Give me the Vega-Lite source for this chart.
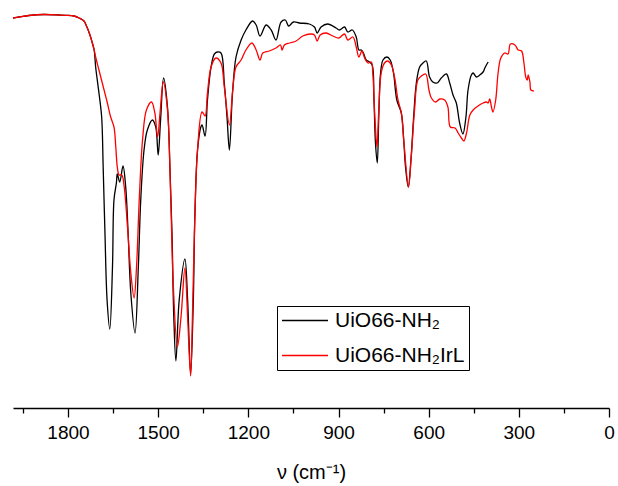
{
  "$schema": "https://vega.github.io/schema/vega-lite/v6.json",
  "width": 596,
  "height": 408,
  "autosize": {"type": "none"},
  "padding": {"left": 13, "top": 0, "right": 9, "bottom": 78},
  "background": "white",
  "config": {"view": {"stroke": null}},
  "data": {"values": [
    {"s":"UiO66-NH₂","nu":1983,"T":390},{"s":"UiO66-NH₂","nu":1963,"T":391},{"s":"UiO66-NH₂","nu":1930,"T":392.5},{"s":"UiO66-NH₂","nu":1880,"T":393.5},{"s":"UiO66-NH₂","nu":1830,"T":393},{"s":"UiO66-NH₂","nu":1807,"T":392.7},{"s":"UiO66-NH₂","nu":1780,"T":392},{"s":"UiO66-NH₂","nu":1763,"T":390},{"s":"UiO66-NH₂","nu":1747,"T":387},{"s":"UiO66-NH₂","nu":1737,"T":381},{"s":"UiO66-NH₂","nu":1727,"T":373},{"s":"UiO66-NH₂","nu":1720,"T":366},{"s":"UiO66-NH₂","nu":1713,"T":358},
    {"s":"UiO66-NH₂","nu":1708,"T":341},{"s":"UiO66-NH₂","nu":1697,"T":315},{"s":"UiO66-NH₂","nu":1688,"T":291},{"s":"UiO66-NH₂","nu":1683,"T":241},{"s":"UiO66-NH₂","nu":1677,"T":175},{"s":"UiO66-NH₂","nu":1670,"T":108},{"s":"UiO66-NH₂","nu":1661,"T":79},{"s":"UiO66-NH₂","nu":1652,"T":141},{"s":"UiO66-NH₂","nu":1647,"T":208},{"s":"UiO66-NH₂","nu":1639,"T":225},{"s":"UiO66-NH₂","nu":1636,"T":234},{"s":"UiO66-NH₂","nu":1628,"T":226},{"s":"UiO66-NH₂","nu":1617,"T":242},{"s":"UiO66-NH₂","nu":1608,"T":221},{"s":"UiO66-NH₂","nu":1600,"T":175},{"s":"UiO66-NH₂","nu":1591,"T":115},{"s":"UiO66-NH₂","nu":1577,"T":75},{"s":"UiO66-NH₂","nu":1566,"T":141},{"s":"UiO66-NH₂","nu":1558,"T":208},{"s":"UiO66-NH₂","nu":1547,"T":258},{"s":"UiO66-NH₂","nu":1536,"T":278},{"s":"UiO66-NH₂","nu":1519,"T":288},{"s":"UiO66-NH₂","nu":1508,"T":281},{"s":"UiO66-NH₂","nu":1500,"T":253},{"s":"UiO66-NH₂","nu":1492,"T":288},{"s":"UiO66-NH₂","nu":1482,"T":330},{"s":"UiO66-NH₂","nu":1469,"T":301},{"s":"UiO66-NH₂","nu":1461,"T":241},{"s":"UiO66-NH₂","nu":1454,"T":175},{"s":"UiO66-NH₂","nu":1448,"T":91},{"s":"UiO66-NH₂","nu":1441,"T":47},{"s":"UiO66-NH₂","nu":1430,"T":108},{"s":"UiO66-NH₂","nu":1411,"T":149},{"s":"UiO66-NH₂","nu":1402,"T":108},{"s":"UiO66-NH₂","nu":1392,"T":34},{"s":"UiO66-NH₂","nu":1383,"T":108},{"s":"UiO66-NH₂","nu":1378,"T":191},{"s":"UiO66-NH₂","nu":1369,"T":258},{"s":"UiO66-NH₂","nu":1358,"T":281},{"s":"UiO66-NH₂","nu":1354,"T":283},{"s":"UiO66-NH₂","nu":1344,"T":272},{"s":"UiO66-NH₂","nu":1336,"T":308},{"s":"UiO66-NH₂","nu":1324,"T":341},{"s":"UiO66-NH₂","nu":1313,"T":354},{"s":"UiO66-NH₂","nu":1303,"T":356},{"s":"UiO66-NH₂","nu":1291,"T":355},{"s":"UiO66-NH₂","nu":1280,"T":325},{"s":"UiO66-NH₂","nu":1271,"T":291},{"s":"UiO66-NH₂","nu":1263,"T":258},{"s":"UiO66-NH₂","nu":1253,"T":313},{"s":"UiO66-NH₂","nu":1241,"T":351},{"s":"UiO66-NH₂","nu":1224,"T":368},{"s":"UiO66-NH₂","nu":1208,"T":378},{"s":"UiO66-NH₂","nu":1186,"T":387},{"s":"UiO66-NH₂","nu":1174,"T":383},{"s":"UiO66-NH₂","nu":1161,"T":372},{"s":"UiO66-NH₂","nu":1141,"T":383},{"s":"UiO66-NH₂","nu":1124,"T":378},{"s":"UiO66-NH₂","nu":1108,"T":368},{"s":"UiO66-NH₂","nu":1091,"T":386},{"s":"UiO66-NH₂","nu":1077,"T":388},{"s":"UiO66-NH₂","nu":1066,"T":382},{"s":"UiO66-NH₂","nu":1050,"T":386},{"s":"UiO66-NH₂","nu":1030,"T":385},{"s":"UiO66-NH₂","nu":997,"T":384},{"s":"UiO66-NH₂","nu":980,"T":381},{"s":"UiO66-NH₂","nu":971,"T":375},{"s":"UiO66-NH₂","nu":958,"T":381},{"s":"UiO66-NH₂","nu":936,"T":384},{"s":"UiO66-NH₂","nu":908,"T":380},{"s":"UiO66-NH₂","nu":897,"T":378},{"s":"UiO66-NH₂","nu":880,"T":381},{"s":"UiO66-NH₂","nu":869,"T":376},{"s":"UiO66-NH₂","nu":854,"T":378},{"s":"UiO66-NH₂","nu":841,"T":371},{"s":"UiO66-NH₂","nu":832,"T":358},{"s":"UiO66-NH₂","nu":824,"T":358},{"s":"UiO66-NH₂","nu":817,"T":355},{"s":"UiO66-NH₂","nu":808,"T":348},{"s":"UiO66-NH₂","nu":797,"T":346},{"s":"UiO66-NH₂","nu":788,"T":343},{"s":"UiO66-NH₂","nu":782,"T":308},{"s":"UiO66-NH₂","nu":777,"T":265},{"s":"UiO66-NH₂","nu":771,"T":245},{"s":"UiO66-NH₂","nu":766,"T":291},{"s":"UiO66-NH₂","nu":760,"T":335},{"s":"UiO66-NH₂","nu":752,"T":348},{"s":"UiO66-NH₂","nu":739,"T":351},{"s":"UiO66-NH₂","nu":728,"T":348},{"s":"UiO66-NH₂","nu":717,"T":335},{"s":"UiO66-NH₂","nu":706,"T":308},{"s":"UiO66-NH₂","nu":691,"T":295},{"s":"UiO66-NH₂","nu":683,"T":268},{"s":"UiO66-NH₂","nu":677,"T":241},{"s":"UiO66-NH₂","nu":668,"T":221},{"s":"UiO66-NH₂","nu":659,"T":248},{"s":"UiO66-NH₂","nu":650,"T":291},{"s":"UiO66-NH₂","nu":641,"T":325},{"s":"UiO66-NH₂","nu":630,"T":341},{"s":"UiO66-NH₂","nu":619,"T":345},{"s":"UiO66-NH₂","nu":608,"T":347},{"s":"UiO66-NH₂","nu":597,"T":331},{"s":"UiO66-NH₂","nu":586,"T":326},{"s":"UiO66-NH₂","nu":572,"T":325},{"s":"UiO66-NH₂","nu":558,"T":330},{"s":"UiO66-NH₂","nu":541,"T":334},{"s":"UiO66-NH₂","nu":530,"T":325},{"s":"UiO66-NH₂","nu":519,"T":313},{"s":"UiO66-NH₂","nu":508,"T":305},{"s":"UiO66-NH₂","nu":497,"T":285},{"s":"UiO66-NH₂","nu":486,"T":274},{"s":"UiO66-NH₂","nu":476,"T":291},{"s":"UiO66-NH₂","nu":469,"T":318},{"s":"UiO66-NH₂","nu":458,"T":333},{"s":"UiO66-NH₂","nu":452,"T":335},{"s":"UiO66-NH₂","nu":441,"T":331},{"s":"UiO66-NH₂","nu":430,"T":333},{"s":"UiO66-NH₂","nu":419,"T":336},{"s":"UiO66-NH₂","nu":413,"T":340},{"s":"UiO66-NH₂","nu":408,"T":343},{"s":"UiO66-NH₂","nu":402,"T":346},
    {"s":"UiO66-NH₂IrL","nu":1983,"T":390},{"s":"UiO66-NH₂IrL","nu":1963,"T":391},{"s":"UiO66-NH₂IrL","nu":1930,"T":392.5},{"s":"UiO66-NH₂IrL","nu":1880,"T":393.5},{"s":"UiO66-NH₂IrL","nu":1830,"T":393},{"s":"UiO66-NH₂IrL","nu":1807,"T":392.7},{"s":"UiO66-NH₂IrL","nu":1780,"T":392},{"s":"UiO66-NH₂IrL","nu":1763,"T":390},{"s":"UiO66-NH₂IrL","nu":1747,"T":387},{"s":"UiO66-NH₂IrL","nu":1737,"T":381},{"s":"UiO66-NH₂IrL","nu":1727,"T":373},{"s":"UiO66-NH₂IrL","nu":1720,"T":366},{"s":"UiO66-NH₂IrL","nu":1713,"T":358},
    {"s":"UiO66-NH₂IrL","nu":1708,"T":351},{"s":"UiO66-NH₂IrL","nu":1697,"T":338},{"s":"UiO66-NH₂IrL","nu":1680,"T":318},{"s":"UiO66-NH₂IrL","nu":1669,"T":305},{"s":"UiO66-NH₂IrL","nu":1658,"T":291},{"s":"UiO66-NH₂IrL","nu":1647,"T":281},{"s":"UiO66-NH₂IrL","nu":1641,"T":261},{"s":"UiO66-NH₂IrL","nu":1636,"T":241},{"s":"UiO66-NH₂IrL","nu":1630,"T":233},{"s":"UiO66-NH₂IrL","nu":1621,"T":233},{"s":"UiO66-NH₂IrL","nu":1613,"T":221},{"s":"UiO66-NH₂IrL","nu":1602,"T":181},{"s":"UiO66-NH₂IrL","nu":1591,"T":135},{"s":"UiO66-NH₂IrL","nu":1580,"T":110},{"s":"UiO66-NH₂IrL","nu":1572,"T":141},{"s":"UiO66-NH₂IrL","nu":1563,"T":208},{"s":"UiO66-NH₂IrL","nu":1552,"T":268},{"s":"UiO66-NH₂IrL","nu":1539,"T":298},{"s":"UiO66-NH₂IrL","nu":1522,"T":306},{"s":"UiO66-NH₂IrL","nu":1511,"T":295},{"s":"UiO66-NH₂IrL","nu":1502,"T":271},{"s":"UiO66-NH₂IrL","nu":1493,"T":298},{"s":"UiO66-NH₂IrL","nu":1483,"T":326},{"s":"UiO66-NH₂IrL","nu":1469,"T":298},{"s":"UiO66-NH₂IrL","nu":1458,"T":208},{"s":"UiO66-NH₂IrL","nu":1450,"T":125},{"s":"UiO66-NH₂IrL","nu":1436,"T":61},{"s":"UiO66-NH₂IrL","nu":1424,"T":91},{"s":"UiO66-NH₂IrL","nu":1411,"T":140},{"s":"UiO66-NH₂IrL","nu":1402,"T":91},{"s":"UiO66-NH₂IrL","nu":1392,"T":32},{"s":"UiO66-NH₂IrL","nu":1386,"T":91},{"s":"UiO66-NH₂IrL","nu":1378,"T":191},{"s":"UiO66-NH₂IrL","nu":1369,"T":258},{"s":"UiO66-NH₂IrL","nu":1354,"T":296},{"s":"UiO66-NH₂IrL","nu":1344,"T":292},{"s":"UiO66-NH₂IrL","nu":1336,"T":315},{"s":"UiO66-NH₂IrL","nu":1324,"T":341},{"s":"UiO66-NH₂IrL","nu":1308,"T":350},{"s":"UiO66-NH₂IrL","nu":1291,"T":345},{"s":"UiO66-NH₂IrL","nu":1280,"T":321},{"s":"UiO66-NH₂IrL","nu":1263,"T":283},{"s":"UiO66-NH₂IrL","nu":1252,"T":318},{"s":"UiO66-NH₂IrL","nu":1241,"T":341},{"s":"UiO66-NH₂IrL","nu":1224,"T":348},{"s":"UiO66-NH₂IrL","nu":1208,"T":358},{"s":"UiO66-NH₂IrL","nu":1188,"T":365},{"s":"UiO66-NH₂IrL","nu":1174,"T":358},{"s":"UiO66-NH₂IrL","nu":1161,"T":348},{"s":"UiO66-NH₂IrL","nu":1152,"T":355},{"s":"UiO66-NH₂IrL","nu":1130,"T":357},{"s":"UiO66-NH₂IrL","nu":1108,"T":360},{"s":"UiO66-NH₂IrL","nu":1093,"T":363},{"s":"UiO66-NH₂IrL","nu":1088,"T":358},{"s":"UiO66-NH₂IrL","nu":1080,"T":363},{"s":"UiO66-NH₂IrL","nu":1063,"T":365},{"s":"UiO66-NH₂IrL","nu":1041,"T":367},{"s":"UiO66-NH₂IrL","nu":1019,"T":372},{"s":"UiO66-NH₂IrL","nu":991,"T":374},{"s":"UiO66-NH₂IrL","nu":980,"T":373},{"s":"UiO66-NH₂IrL","nu":971,"T":367},{"s":"UiO66-NH₂IrL","nu":961,"T":373},{"s":"UiO66-NH₂IrL","nu":941,"T":375},{"s":"UiO66-NH₂IrL","nu":919,"T":372},{"s":"UiO66-NH₂IrL","nu":899,"T":370},{"s":"UiO66-NH₂IrL","nu":880,"T":374},{"s":"UiO66-NH₂IrL","nu":869,"T":368},{"s":"UiO66-NH₂IrL","nu":852,"T":371},{"s":"UiO66-NH₂IrL","nu":841,"T":361},{"s":"UiO66-NH₂IrL","nu":832,"T":351},{"s":"UiO66-NH₂IrL","nu":822,"T":357},{"s":"UiO66-NH₂IrL","nu":813,"T":350},{"s":"UiO66-NH₂IrL","nu":802,"T":345},{"s":"UiO66-NH₂IrL","nu":791,"T":346},{"s":"UiO66-NH₂IrL","nu":786,"T":335},{"s":"UiO66-NH₂IrL","nu":779,"T":291},{"s":"UiO66-NH₂IrL","nu":772,"T":261},{"s":"UiO66-NH₂IrL","nu":766,"T":298},{"s":"UiO66-NH₂IrL","nu":758,"T":335},{"s":"UiO66-NH₂IrL","nu":747,"T":345},{"s":"UiO66-NH₂IrL","nu":736,"T":347},{"s":"UiO66-NH₂IrL","nu":724,"T":343},{"s":"UiO66-NH₂IrL","nu":713,"T":330},{"s":"UiO66-NH₂IrL","nu":702,"T":308},{"s":"UiO66-NH₂IrL","nu":691,"T":295},{"s":"UiO66-NH₂IrL","nu":683,"T":268},{"s":"UiO66-NH₂IrL","nu":667,"T":221},{"s":"UiO66-NH₂IrL","nu":658,"T":251},{"s":"UiO66-NH₂IrL","nu":647,"T":298},{"s":"UiO66-NH₂IrL","nu":636,"T":328},{"s":"UiO66-NH₂IrL","nu":624,"T":332},{"s":"UiO66-NH₂IrL","nu":610,"T":334},{"s":"UiO66-NH₂IrL","nu":599,"T":318},{"s":"UiO66-NH₂IrL","nu":591,"T":310},{"s":"UiO66-NH₂IrL","nu":577,"T":306},{"s":"UiO66-NH₂IrL","nu":563,"T":309},{"s":"UiO66-NH₂IrL","nu":547,"T":308},{"s":"UiO66-NH₂IrL","nu":536,"T":301},{"s":"UiO66-NH₂IrL","nu":528,"T":281},{"s":"UiO66-NH₂IrL","nu":512,"T":280},{"s":"UiO66-NH₂IrL","nu":502,"T":275},{"s":"UiO66-NH₂IrL","nu":491,"T":270},{"s":"UiO66-NH₂IrL","nu":483,"T":267},{"s":"UiO66-NH₂IrL","nu":474,"T":275},{"s":"UiO66-NH₂IrL","nu":463,"T":293},{"s":"UiO66-NH₂IrL","nu":452,"T":298},{"s":"UiO66-NH₂IrL","nu":436,"T":302},{"s":"UiO66-NH₂IrL","nu":419,"T":305},{"s":"UiO66-NH₂IrL","nu":408,"T":306},{"s":"UiO66-NH₂IrL","nu":402,"T":305},{"s":"UiO66-NH₂IrL","nu":397,"T":309},{"s":"UiO66-NH₂IrL","nu":391,"T":301},{"s":"UiO66-NH₂IrL","nu":386,"T":296},{"s":"UiO66-NH₂IrL","nu":377,"T":308},{"s":"UiO66-NH₂IrL","nu":369,"T":335},{"s":"UiO66-NH₂IrL","nu":360,"T":350},{"s":"UiO66-NH₂IrL","nu":347,"T":355},{"s":"UiO66-NH₂IrL","nu":336,"T":354},{"s":"UiO66-NH₂IrL","nu":328,"T":364},{"s":"UiO66-NH₂IrL","nu":313,"T":363},{"s":"UiO66-NH₂IrL","nu":302,"T":358},{"s":"UiO66-NH₂IrL","nu":291,"T":357},{"s":"UiO66-NH₂IrL","nu":283,"T":345},{"s":"UiO66-NH₂IrL","nu":277,"T":331},{"s":"UiO66-NH₂IrL","nu":272,"T":328},{"s":"UiO66-NH₂IrL","nu":269,"T":333},{"s":"UiO66-NH₂IrL","nu":263,"T":326},{"s":"UiO66-NH₂IrL","nu":260,"T":318},{"s":"UiO66-NH₂IrL","nu":250,"T":317}
  ]},
  "mark": {"type": "line", "strokeWidth": 1.3, "interpolate": "catmull-rom"},
  "encoding": {
    "x": {
      "field": "nu", "type": "quantitative",
      "scale": {"domain": [1983, 0], "nice": false, "zero": false},
      "axis": {
        "values": [1950, 1800, 1650, 1500, 1350, 1200, 1050, 900, 750, 600, 450, 300, 150, 0],
        "labelExpr": "datum.value % 300 === 0 ? datum.label : ''",
        "format": "d",
        "tickSize": {"condition": {"test": "datum.value % 300 === 0", "value": 9}, "value": 5},
        "grid": false,
        "domainColor": "black", "domainWidth": 1.3,
        "tickColor": "black", "tickWidth": 1.3,
        "labelFont": "Liberation Sans", "labelFontSize": 19, "labelColor": "black", "labelPadding": 6,
        "labelFlush": false, "labelOverlap": false,
        "title": "ν (cm⁻¹)", "titleFont": "Liberation Sans", "titleFontSize": 20, "titleFontWeight": "normal", "titleColor": "black", "titlePadding": 20
      }
    },
    "y": {"field": "T", "type": "quantitative", "scale": {"domain": [0, 408], "nice": false, "zero": false}, "axis": null},
    "color": {
      "field": "s", "type": "nominal",
      "scale": {"domain": ["UiO66-NH₂", "UiO66-NH₂IrL"], "range": ["#000000", "#ff0000"]},
      "legend": {
        "title": null, "orient": "none", "legendX": 264, "legendY": 306,
        "strokeColor": "black", "fillColor": "white", "padding": 4,
        "symbolType": "stroke", "symbolSize": 2116, "symbolStrokeWidth": 1.3,
        "clipHeight": 21, "rowPadding": 13,
        "labelFont": "Liberation Sans", "labelFontSize": 21, "labelColor": "black", "labelOffset": 6, "labelLimit": 400
      }
    }
  }
}
